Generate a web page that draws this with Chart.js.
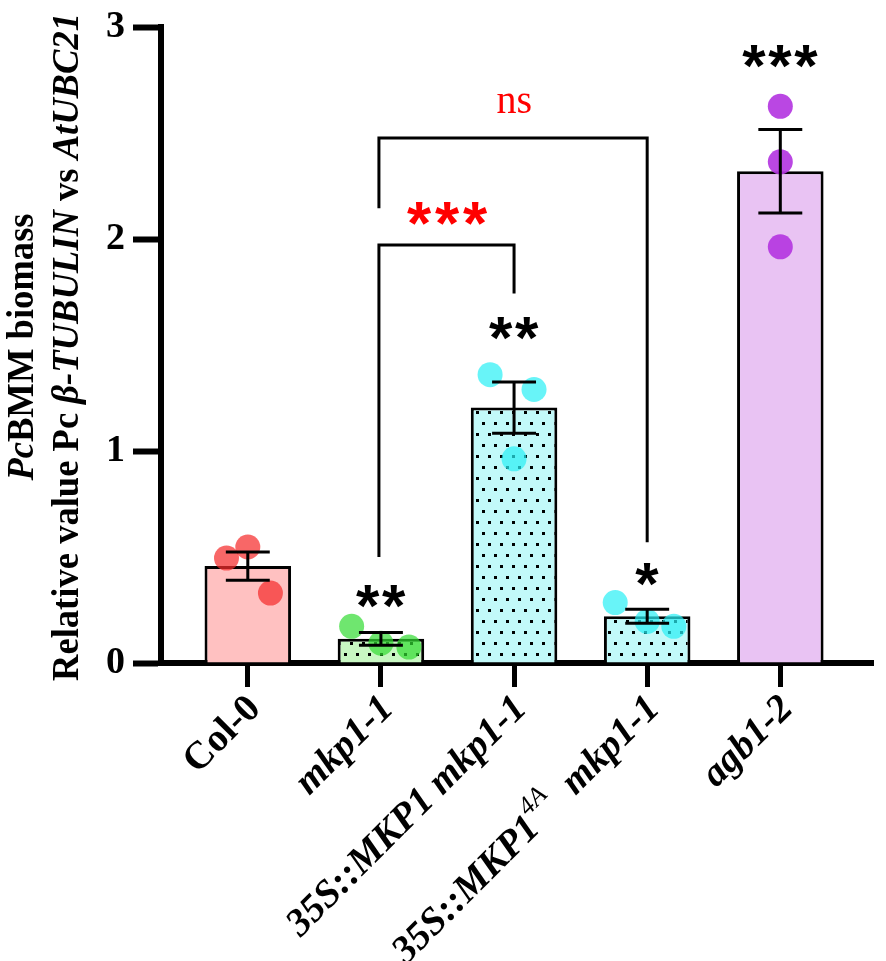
<!DOCTYPE html>
<html lang="en">
<head>
<meta charset="UTF-8">
<title>PcBMM biomass</title>
<script src="https://cdn.jsdelivr.net/npm/chart.js"></script>
<style>
  body { margin: 0; background: #fff; }
  .wrap { width: 886px; height: 961px; position: relative; }
</style>
</head>
<body>
<div class="wrap"><canvas id="biomassChart"></canvas></div>
<script>
// genotype names; ^{..} marks a superscript part
const genotypes = ['Col-0', 'mkp1-1', '35S::MKP1 mkp1-1', '35S::MKP1^{4A}  mkp1-1', 'agb1-2'];
const uprightLabels = ['Col-0'];

// mean and SEM
const means = [0.457, 0.114, 1.205, 0.220, 2.320];
const sems = [0.067, 0.030, 0.121, 0.033, 0.197];

// the three replicates of each genotype, and their sideways spread (in category units)
const replicates = [
  [0.495, 0.547, 0.330],
  [0.173, 0.093, 0.075],
  [1.360, 1.290, 0.963],
  [0.285, 0.196, 0.173],
  [2.626, 2.364, 1.963]
];
const spread = [
  [-0.16, 0, 0.17],
  [-0.22, 0, 0.21],
  [-0.18, 0.15, 0],
  [-0.24, 0, 0.20],
  [0, 0, 0]
];

// significance marks above each bar
const starLabels = ['', '**', '**', '*', '***'];
const starLevels = [null, 0.313, 1.58, 0.416, 2.86];

// comparison brackets: from / to category, bar height, leg ends, label
const brackets = [
  { from: 1, to: 3, level: 2.477, fromEnd: 2.145, toEnd: 0.57, label: 'ns', labelLevel: 2.64 },
  { from: 1, to: 2, level: 1.972, fromEnd: 0.50, toEnd: 1.743, label: '***', labelLevel: 2.12 }
];

const yTicks = [0, 1, 2, 3];

const barFills = ['#ffc1c1', '#c8f7c2', '#c2f9f9', '#c2f9f9', '#e9c3f3'];
const dotted = [false, true, true, true, false];
const pointColors = ['rgba(245,45,45,0.72)', 'rgba(50,220,50,0.7)', 'rgba(40,240,245,0.7)', 'rgba(40,240,245,0.7)', 'rgba(180,55,225,0.92)'];

const canvas = document.getElementById('biomassChart');
const ctx = canvas.getContext('2d');

function dotPattern(fill) {
    const c = document.createElement('canvas');
    c.width = 12; c.height = 22;
    const g = c.getContext('2d');
    g.fillStyle = fill;
    g.fillRect(0, 0, 12, 22);
    g.fillStyle = '#000';
    g.fillRect(2, 4, 3, 3);
    g.fillRect(8, 15, 3, 3);
    return ctx.createPattern(c, 'repeat');
}

const pointData = [];
const pointBg = [];
replicates.forEach((vals, i) => {
    vals.forEach((v, j) => {
        pointData.push({ x: i + spread[i][j], y: v });
        pointBg.push(pointColors[i]);
    });
});

const CAP = 0.165;
const SERIF = '"Liberation Serif", "Times New Roman", serif';
const SANS = '"Liberation Sans", Arial, sans-serif';

function drawCentered(c, text, x, y, spacing) {
    const chars = spacing ? text.split('') : [text];
    const step = spacing || 0;
    chars.forEach((ch, k) => {
        const m = c.measureText(ch);
        const cx = x + (k - (chars.length - 1) / 2) * step;
        const w = m.actualBoundingBoxRight + m.actualBoundingBoxLeft;
        const h = m.actualBoundingBoxAscent + m.actualBoundingBoxDescent;
        c.fillText(ch, cx - w / 2 + m.actualBoundingBoxLeft, y + h / 2 - m.actualBoundingBoxDescent);
    });
}

function runs(label) {
    const out = [];
    const parts = label.split(/\^\{([^}]*)\}/);
    parts.forEach((p, k) => {
        if (p) out.push({ t: p, sup: k % 2 === 1 });
    });
    return out;
}

const annotations = {
    id: 'annotations',
    afterDatasetsDraw(chart) {
        const { ctx: c, scales: { x, y } } = chart;
        c.save();
        c.strokeStyle = '#000';
        c.lineWidth = 3;
        // error bars
        means.forEach((m, i) => {
            const px = x.getPixelForValue(i);
            const half = x.getPixelForValue(i + CAP) - px;
            const top = y.getPixelForValue(m + sems[i]);
            const bot = y.getPixelForValue(m - sems[i]);
            c.beginPath();
            c.moveTo(px, top); c.lineTo(px, bot);
            c.moveTo(px - half, top); c.lineTo(px + half, top);
            c.moveTo(px - half, bot); c.lineTo(px + half, bot);
            c.stroke();
        });
        // brackets
        c.lineJoin = 'miter';
        brackets.forEach(b => {
            const x1 = x.getPixelForValue(b.from) - 2;
            const x2 = x.getPixelForValue(b.to);
            const yl = y.getPixelForValue(b.level);
            c.beginPath();
            c.moveTo(x1, y.getPixelForValue(b.fromEnd));
            c.lineTo(x1, yl);
            c.lineTo(x2, yl);
            c.lineTo(x2, y.getPixelForValue(b.toEnd));
            c.stroke();
            c.fillStyle = '#ff0000';
            const mid = x.getPixelForValue((b.from + b.to) / 2);
            if (b.label === 'ns') {
                c.font = '40px ' + SERIF;
                drawCentered(c, b.label, mid, y.getPixelForValue(b.labelLevel));
            } else {
                c.font = 'bold 62px ' + SANS;
                drawCentered(c, b.label, mid, y.getPixelForValue(b.labelLevel), 28);
            }
        });
        // stars over bars
        c.fillStyle = '#000';
        c.font = 'bold 60px ' + SANS;
        starLabels.forEach((s, i) => {
            if (!s) return;
            drawCentered(c, s, x.getPixelForValue(i), y.getPixelForValue(starLevels[i]), 26);
        });
        c.restore();
    },
    afterDraw(chart) {
        const { ctx: c, scales: { x }, chartArea } = chart;
        c.save();
        // rotated genotype labels
        genotypes.forEach((g, i) => {
            const italic = !uprightLabels.includes(g);
            const parts = runs(g);
            const fontFor = p => p.sup
                ? (italic ? 'italic ' : '') + '26px ' + SERIF
                : (italic ? 'italic ' : '') + 'bold 39px ' + SERIF;
            let total = 0;
            parts.forEach(p => { c.font = fontFor(p); total += c.measureText(p.t).width; });
            c.save();
            c.translate(x.getPixelForValue(i) + 7, chartArea.bottom + 40);
            c.rotate(-Math.PI / 4);
            c.fillStyle = '#000';
            c.textBaseline = 'middle';
            c.textAlign = 'left';
            let pos = -total;
            parts.forEach(p => {
                c.font = fontFor(p);
                c.fillText(p.t, pos, p.sup ? -16 : 0);
                pos += c.measureText(p.t).width;
            });
            c.restore();
        });
        // y axis title, two lines
        const lines = [
            { base: 33, parts: [{ t: 'Pc', it: true }, { t: 'BMM biomass' }] },
            { base: 78, parts: [{ t: 'Relative value Pc ' }, { t: '\u03b2-TUBULIN', it: true }, { t: ' vs ' }, { t: 'AtUBC21', it: true }] }
        ];
        const fontOf = p => (p.it ? 'italic ' : '') + 'bold 37px ' + SERIF;
        const widthOf = line => line.parts.reduce((s, p) => { c.font = fontOf(p); return s + c.measureText(p.t).width; }, 0);
        const stretch = 668 / widthOf(lines[1]);
        const cy = (chartArea.top + chartArea.bottom) / 2 + 2;
        lines.forEach(line => {
            const w = widthOf(line);
            c.save();
            c.translate(line.base, cy);
            c.rotate(-Math.PI / 2);
            c.scale(stretch, 1);
            c.fillStyle = '#000';
            c.textBaseline = 'alphabetic';
            c.textAlign = 'left';
            let pos = -w / 2;
            line.parts.forEach(p => {
                c.font = fontOf(p);
                c.fillText(p.t, pos, 0);
                pos += c.measureText(p.t).width;
            });
            c.restore();
        });
        c.restore();
    }
};

new Chart(ctx, {
    type: 'bar',
    data: {
        datasets: [
            {
                type: 'scatter',
                data: pointData,
                backgroundColor: pointBg,
                borderWidth: 0,
                pointRadius: 12.5,
                pointHoverRadius: 12.5,
                order: 1
            },
            {
                type: 'bar',
                data: means.map((m, i) => ({ x: i, y: m })),
                backgroundColor: barFills.map((f, i) => dotted[i] ? dotPattern(f) : f),
                borderColor: '#000',
                borderWidth: 3,
                barPercentage: 0.65,
                categoryPercentage: 1,
                order: 2
            }
        ]
    },
    options: {
        responsive: true,
        maintainAspectRatio: false,
        animation: false,
        layout: { padding: { top: 20, right: 2, left: 0, bottom: 0 } },
        plugins: {
            legend: { display: false },
            tooltip: { enabled: false }
        },
        scales: {
            x: {
                type: 'linear',
                offset: false,
                min: -0.652,
                max: 4.7,
                afterBuildTicks: axis => { axis.ticks = genotypes.map((g, i) => ({ value: i })); },
                afterFit: axis => { axis.height = 298; },
                ticks: { display: false },
                grid: { offset: false, drawOnChartArea: false, drawTicks: true, tickLength: 24, tickWidth: 5, tickColor: '#000' },
                border: { color: '#000', width: 6 }
            },
            y: {
                min: 0,
                max: 3,
                afterBuildTicks: axis => { axis.ticks = yTicks.map(v => ({ value: v })); },
                afterFit: axis => { axis.width = 161; },
                ticks: {
                    color: '#000',
                    padding: 8,
                    font: { family: SERIF, size: 38, weight: 'bold', lineHeight: 1 }
                },
                grid: { drawOnChartArea: false, drawTicks: true, tickLength: 28, tickWidth: 6, tickColor: '#000' },
                border: { color: '#000', width: 6 }
            }
        }
    },
    plugins: [annotations]
});
</script>
</body>
</html>
